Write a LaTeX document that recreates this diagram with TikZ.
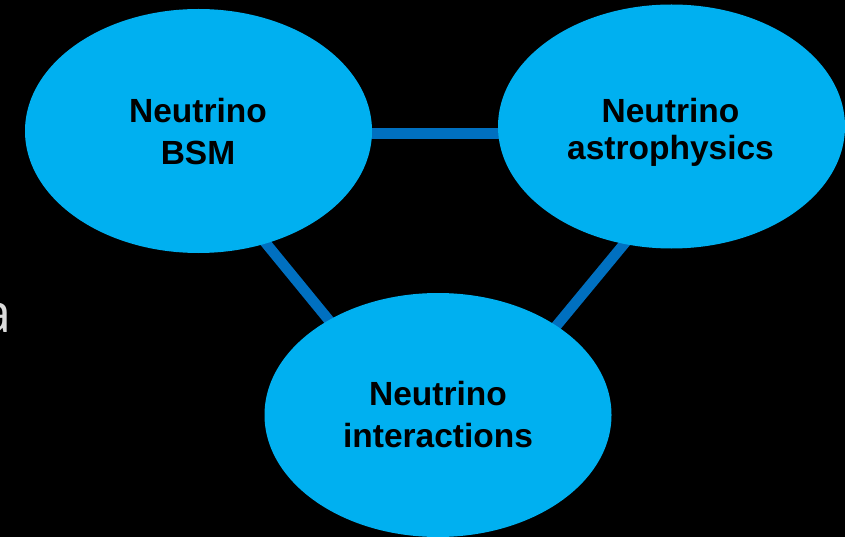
\documentclass[tikz,border=0pt]{standalone}
\usepackage{fontspec}
\setmainfont{Liberation Sans}
\newfontfamily\ghostfont{Open Sans}
\usetikzlibrary{shapes.geometric,calc}
\definecolor{bubble}{HTML}{00B0F0}
\definecolor{linkblue}{HTML}{0070C0}
\definecolor{ghost}{HTML}{DCDCDC}
\pgfdeclarelayer{bg}
\pgfdeclarelayer{backdrop}
\pgfsetlayers{backdrop,bg,main}
\tikzset{
  bubble/.style={ellipse, fill=bubble, draw=none, inner sep=0pt,
                 minimum width=347pt, minimum height=244pt},
  lbl/.style={anchor=base, inner sep=0pt, text=black,
              font=\fontsize{33.5}{37}\selectfont\bfseries},
  conn/.style={draw=linkblue, line width=10.5pt,
               shorten >=-10pt, shorten <=-10pt}
}
\begin{document}
\begin{tikzpicture}[x=1pt,y=1pt]
  \begin{pgfonlayer}{backdrop}
    \fill[black] (0,0) rectangle (845,-537);
  \end{pgfonlayer}
  \useasboundingbox (0,0) rectangle (845,-537);

  \node[anchor=base east, inner sep=0pt, text=ghost,
        font=\fontsize{54}{60}\ghostfont] (ghosta) at (11.5,-332) {a};

  \node[bubble] (bsm)   at (198.5,-131) {};
  \node[bubble] (astro) at (671.5,-126.5) {};
  \node[bubble] (int)   at (438,-415) {};

  \node[lbl] (bsm1)   at (198,-123) {Neutrino};
  \node[lbl] (bsm2)   at (198,-165) {BSM};
  \node[lbl] (astro1) at (670.5,-123) {Neutrino};
  \node[lbl] (astro2) at (670.5,-160) {astrophysics};
  \node[lbl] (int1)   at (438,-405) {Neutrino};
  \node[lbl] (int2)   at (438,-447) {interactions};

  \begin{pgfonlayer}{bg}
    \coordinate (hstart) at ($(bsm.center)+(150,-2.5)$);
    \draw[conn, shorten >=0pt, shorten <=0pt] (hstart) -- (hstart -| astro.center);
    \draw[conn] (bsm.-59.3) -- (int.139.7);
    \draw[conn] (astro.248.6) -- (int.37.5);
  \end{pgfonlayer}
\end{tikzpicture}
\end{document}
